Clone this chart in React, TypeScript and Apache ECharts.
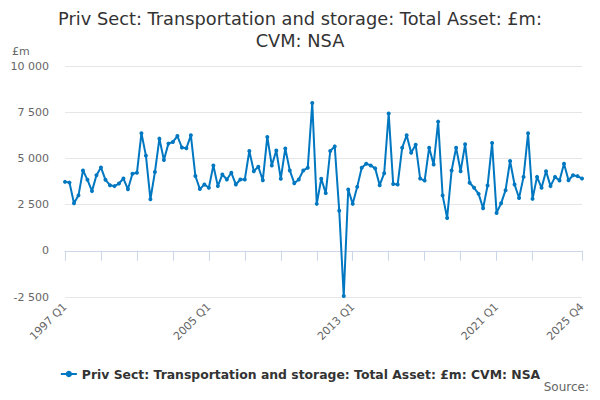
import React, { useEffect, useRef } from "react";
import * as echarts from "echarts";

const TITLE = "Priv Sect: Transportation and storage: Total Asset: £m:\nCVM: NSA";
const SERIES_NAME = "Priv Sect: Transportation and storage: Total Asset: £m: CVM: NSA";
const Y_UNIT = "£m";
const SOURCE = "Source:";

const START_YEAR = 1997;
const QUARTER_COUNT = 116;
const LABELLED_INDEXES = [0, 32, 64, 96, 115];
const TICK_INDEXES = [0, 8, 16, 24, 32, 40, 48, 56, 64, 72, 80, 88, 96, 104, 115];

// 1997 Q1 - 2004 Q4
const values1997to2004 = [
  3730, 3690, 2570, 3000, 4350, 3840, 3230, 4090,
  4510, 3840, 3550, 3500, 3640, 3910, 3330, 4170,
  4220, 6360, 5150, 2790, 4260, 6070, 4910, 5800,
  5890, 6210, 5590, 5550, 6250, 4050, 3340, 3590,
];
// 2005 Q1 - 2012 Q4
const values2005to2012 = [
  3410, 4620, 3500, 4130, 3860, 4220, 3590, 3860,
  3860, 5400, 4310, 4550, 3820, 6160, 4620, 5430,
  3900, 5540, 4350, 3660, 3860, 4350, 4490, 8000,
  2540, 3900, 3120, 5400, 5650, 2170, -2450, 3320,
];
// 2013 Q1 - 2020 Q4
const values2013to2020 = [
  2540, 3460, 4490, 4710, 4620, 4460, 3550, 4200,
  7430, 3620, 3590, 5580, 6250, 5310, 5740, 3910,
  3800, 5580, 4670, 6990, 2990, 1780, 4350, 5580,
  4310, 5760, 3680, 3410, 3080, 2300, 3530, 5830,
];
// 2021 Q1 - 2025 Q4
const values2021to2025 = [
  2050, 2570, 3280, 4860, 3590, 2860, 4000, 6360,
  2810, 4000, 3410, 4310, 3500, 4000, 3800, 4710,
  3820, 4090, 4040, 3910,
];

const Y_MIN = -2500;
const Y_MAX = 10000;
const Y_STEP = 2500;

const categories: string[] = Array.from({ length: QUARTER_COUNT }, (_, i) =>
  `${START_YEAR + Math.floor(i / 4)} Q${(i % 4) + 1}`
);
const values = [
  ...values1997to2004,
  ...values2005to2012,
  ...values2013to2020,
  ...values2021to2025,
];

const FONT = "DejaVu Sans";

function formatThousands(v: number): string {
  const sign = v < 0 ? "-" : "";
  const s = String(Math.abs(v));
  return sign + s.replace(/\B(?=(\d{3})+(?!\d))/g, " ");
}

export default function App() {
  const ref = useRef<HTMLDivElement>(null);

  useEffect(() => {
    if (!ref.current) return;
    const chart = echarts.init(ref.current, undefined, { renderer: "svg" });
    chart.setOption({
      animation: false,
      backgroundColor: "#ffffff",
      title: {
        text: TITLE,
        left: "center",
        top: 2,
        textStyle: {
          fontFamily: FONT,
          fontSize: 17.8,
          fontWeight: "normal",
          color: "#333333",
          lineHeight: 22,
        },
      },
      grid: {
        left: 65,
        right: 18,
        top: 66,
        bottom: 103,
        containLabel: false,
      },
      legend: {
        top: 363,
        left: "center",
        itemWidth: 16,
        itemHeight: 8,
        itemGap: 10,
        textStyle: {
          fontFamily: FONT,
          fontSize: 12.4,
          fontWeight: "bold",
          color: "#333333",
        },
        data: [SERIES_NAME],
      },
      xAxis: {
        type: "category",
        boundaryGap: false,
        data: categories,
        axisLine: { lineStyle: { color: "#ccd6eb", width: 1 } },
        axisTick: {
          show: true,
          length: 10,
          interval: (index: number) => TICK_INDEXES.includes(index),
          lineStyle: { color: "#ccd6eb" },
        },
        axisLabel: {
          rotate: 45,
          interval: (index: number) => LABELLED_INDEXES.includes(index),
          fontFamily: FONT,
          fontSize: 11,
          color: "#666666",
          margin: 8,
        },
        splitLine: { show: false },
      },
      yAxis: {
        type: "value",
        min: Y_MIN,
        max: Y_MAX,
        interval: Y_STEP,
        axisLine: { show: false },
        axisTick: { show: false },
        axisLabel: {
          fontFamily: FONT,
          fontSize: 11,
          color: "#666666",
          margin: 16,
          formatter: (v: number) => formatThousands(v),
        },
        splitLine: { lineStyle: { color: "#e6e6e6", width: 1 } },
      },
      series: [
        {
          name: SERIES_NAME,
          type: "line",
          data: values,
          symbol: "circle",
          symbolSize: 4,
          showSymbol: true,
          showAllSymbol: true,
          itemStyle: { color: "#0077c1" },
          lineStyle: { color: "#0077c1", width: 2 },
        },
      ],
      graphic: [
        {
          type: "text",
          left: 12,
          top: 46,
          style: {
            text: Y_UNIT,
            fontFamily: FONT,
            fontSize: 11,
            fill: "#666666",
          },
        },
        {
          type: "text",
          right: 11,
          top: 381,
          style: {
            text: SOURCE,
            fontFamily: FONT,
            fontSize: 12,
            fill: "#666666",
          },
        },
      ],
    });
    return () => chart.dispose();
  }, []);

  return <div ref={ref} style={{ width: 600, height: 400, margin: -8 }} />;
}
